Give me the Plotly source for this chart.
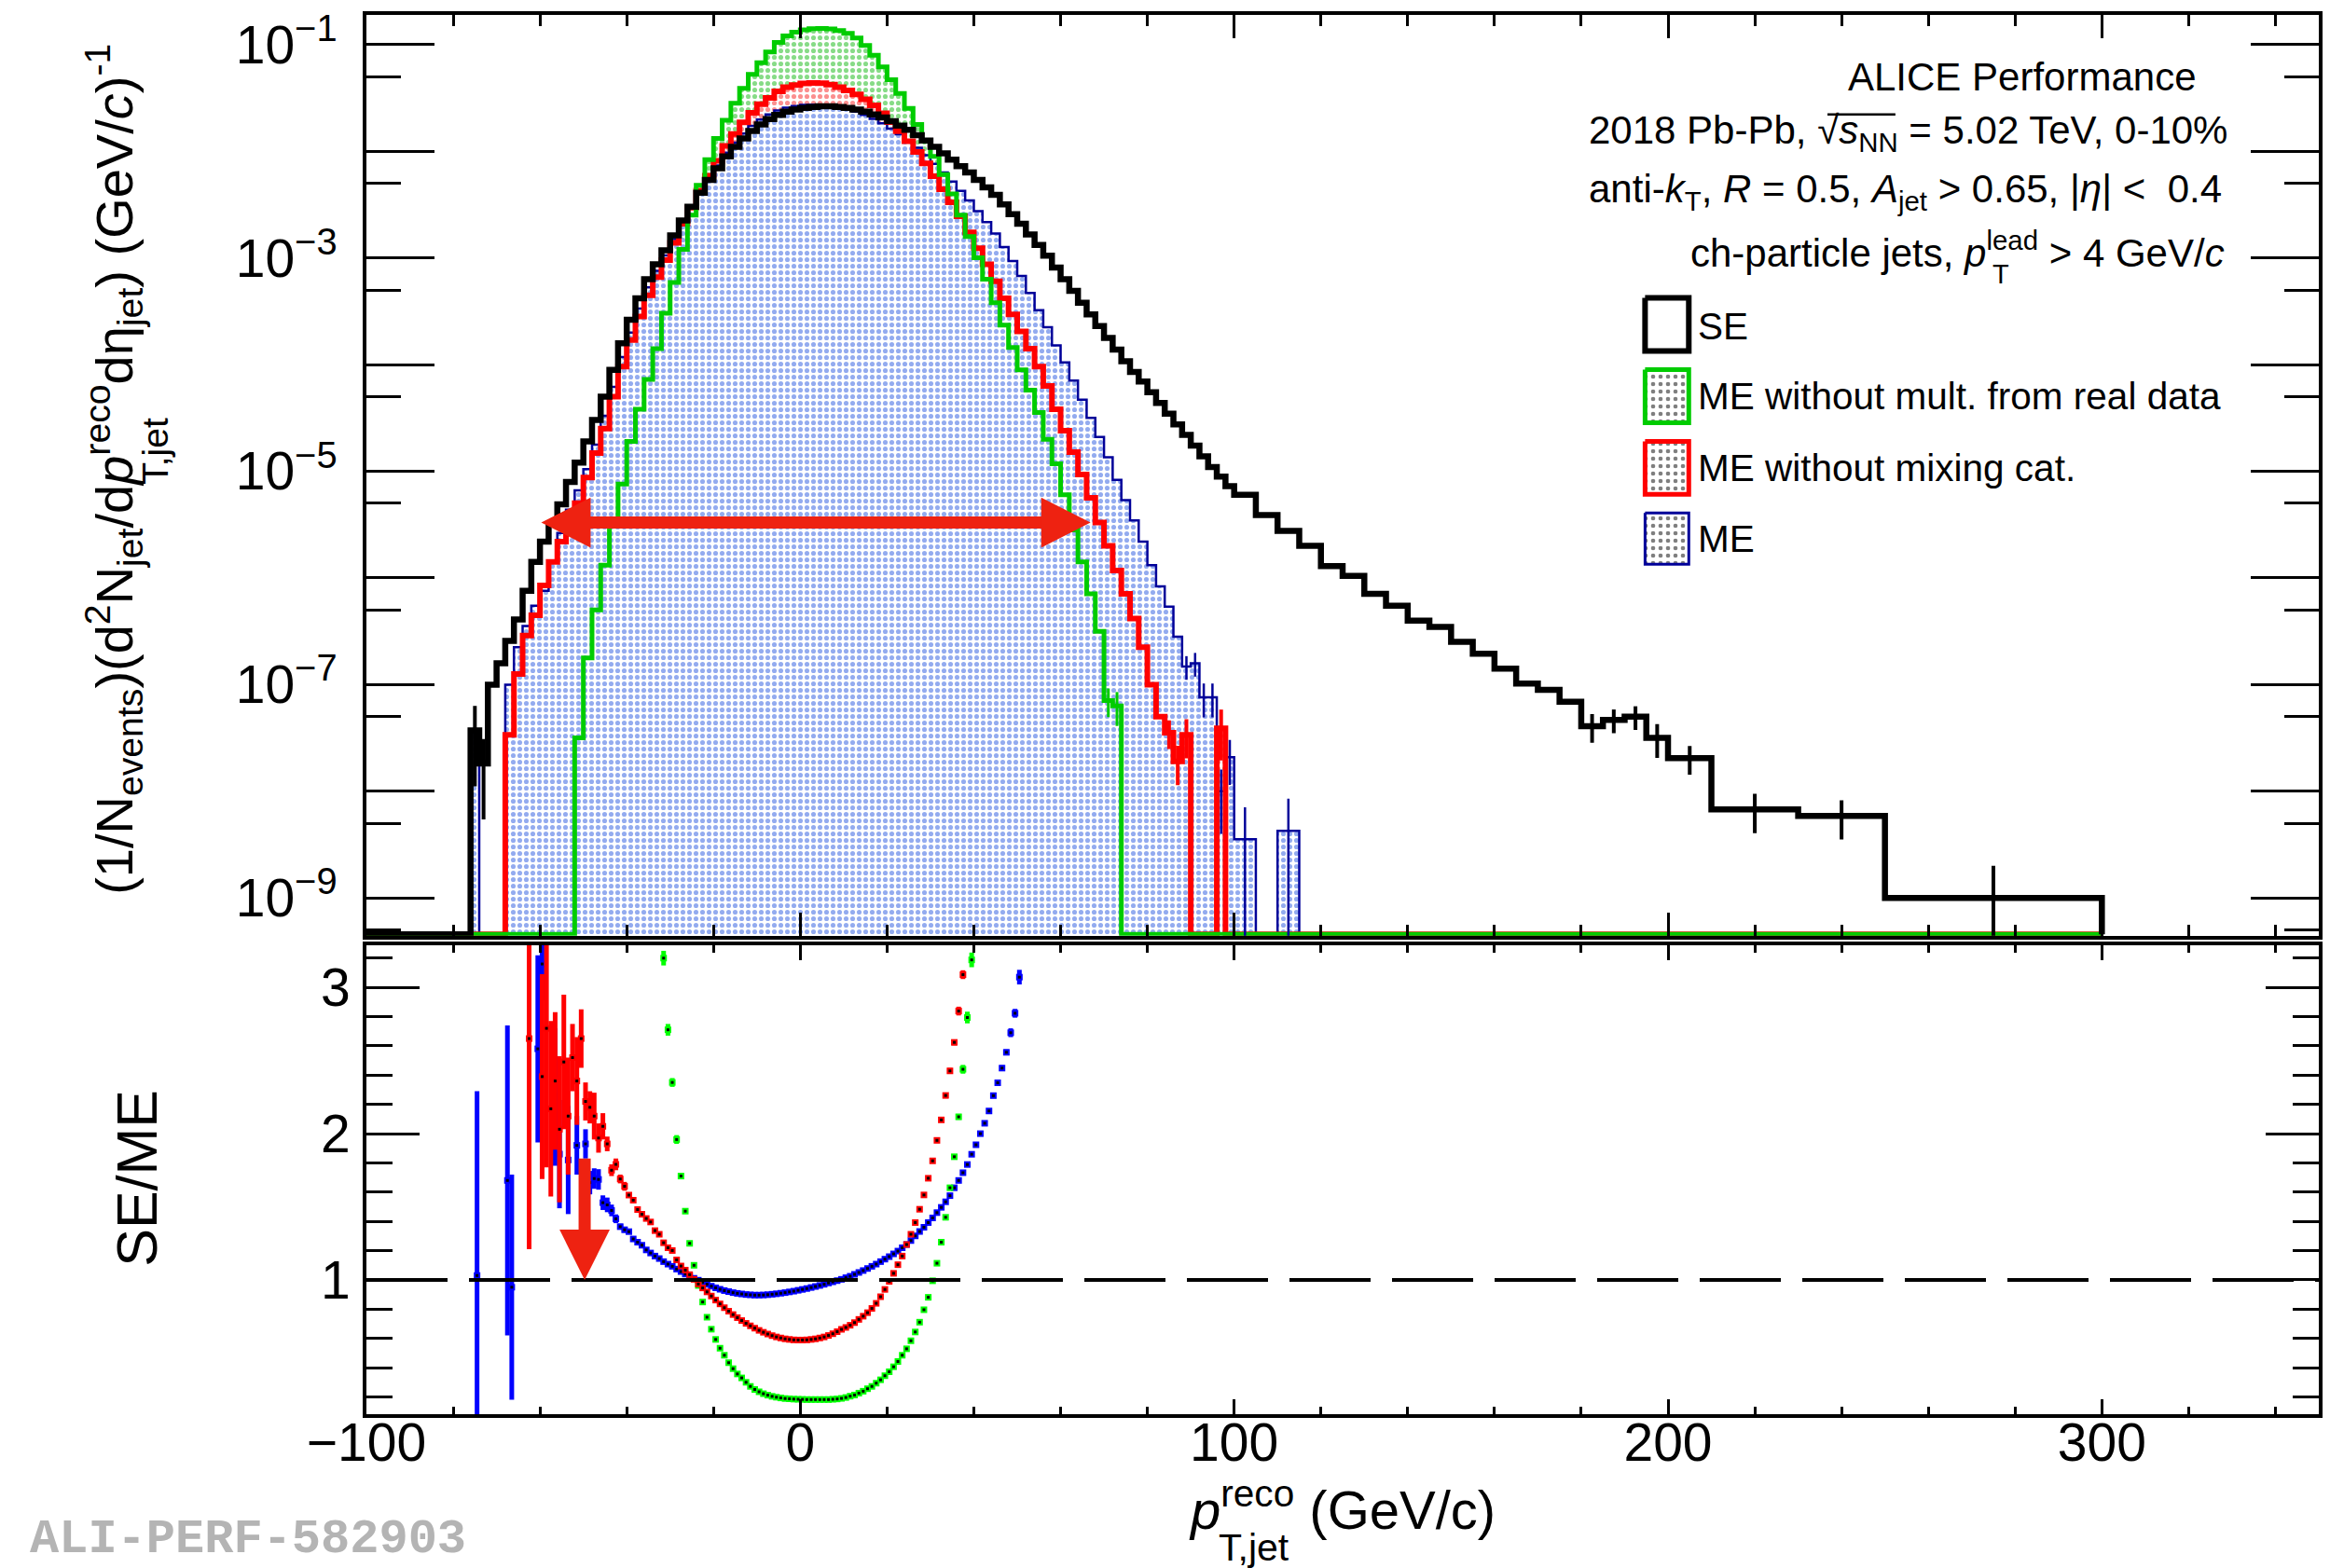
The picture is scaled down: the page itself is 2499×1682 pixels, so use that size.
import numpy as np
import plotly.graph_objects as go

# ======================= DATA =======================
# histogram bin edges, p_T,jet^reco in GeV/c
BIN_EDGES = list(range(-100, 100, 2)) + list(range(100, 200, 5)) + [200, 210, 230, 250, 300]

# log10 of (1/N_ev) d2N/dpT deta per bin ; None = empty bin
SE_LOG10 = [None] * 12 + [
    -7.43, -7.74, -7.00, -6.80, -6.59, -6.39, -6.12, -5.85, -5.66, -5.50,
    -5.31, -5.10, -4.92, -4.72, -4.52, -4.30, -4.05, -3.80, -3.58, -3.38,
    -3.20, -3.06, -2.93, -2.79, -2.65, -2.52, -2.39, -2.27, -2.16, -2.05,
    -1.96, -1.88, -1.81, -1.75, -1.70, -1.66, -1.63, -1.61,
    -1.595, -1.585, -1.58, -1.58, -1.585, -1.595, -1.61, -1.63, -1.655, -1.685,
    -1.72, -1.76, -1.80, -1.85, -1.90, -1.96, -2.02, -2.08, -2.14, -2.20,
    -2.27, -2.34, -2.41, -2.50, -2.59, -2.68, -2.78, -2.88, -2.98, -3.09,
    -3.20, -3.31, -3.42, -3.53, -3.64, -3.75, -3.86, -3.97, -4.07, -4.16,
    -4.26, -4.36, -4.46, -4.56, -4.66, -4.76, -4.86, -4.96, -5.05, -5.14,
] + [
    -5.22, -5.41, -5.56, -5.70, -5.89, -5.98, -6.15, -6.26, -6.40, -6.46,
    -6.60, -6.71, -6.85, -6.99, -7.05, -7.16, -7.39, -7.33, -7.30, -7.50,
] + [-7.69, -8.17, -8.23, -9.00]

ME_NOMULT_LOG10 = [None] * 24 + [
    -7.50, -6.75, -6.30, -5.88, -5.50, -5.12, -4.72, -4.42, -4.14, -3.85,
    -3.52, -3.23, -2.92, -2.60, -2.32, -2.08, -1.88, -1.71, -1.55, -1.41,
    -1.28, -1.17, -1.07, -0.98, -0.92, -0.885,
    -0.862, -0.852, -0.850, -0.855, -0.870, -0.895, -0.940, -1.010, -1.100, -1.210,
    -1.33, -1.46, -1.60, -1.75, -1.90, -2.05, -2.22, -2.40, -2.60, -2.80,
    -3.00, -3.20, -3.42, -3.63, -3.84, -4.05, -4.24, -4.45, -4.70, -4.93,
    -5.22, -5.55, -5.85, -6.15, -6.50, -7.15, -7.20,
] + [None] * 13 + [None] * 20 + [None] * 4

ME_NOCAT_LOG10 = [None] * 16 + [
    -7.47, -6.90, -6.54, -6.35, -6.07, -5.85, -5.66, -5.47, -5.30, -5.06,
    -4.83, -4.60, -4.30, -4.02, -3.77, -3.55, -3.35, -3.18, -3.02, -2.86,
    -2.68, -2.53, -2.37, -2.23, -2.09, -1.95, -1.84, -1.73, -1.64, -1.56,
    -1.50, -1.44, -1.40, -1.38,
    -1.366, -1.360, -1.363, -1.377, -1.400, -1.430, -1.467, -1.513, -1.570, -1.644,
    -1.728, -1.814, -1.906, -2.008, -2.114, -2.235, -2.358, -2.480, -2.610, -2.760,
    -2.91, -3.06, -3.22, -3.38, -3.53, -3.69, -3.85, -4.02, -4.20, -4.42,
    -4.62, -4.82, -5.03, -5.25, -5.48, -5.70, -5.93, -6.15, -6.38, -6.65,
    -7.00, -7.30, -7.45, -7.72, -7.47, None, None, None, -7.41, None,
] + [None] * 20 + [None] * 4

ME_LOG10 = [None] * 12 + [
    -7.45, None, None, None, -7.00, -6.65, -6.45, -6.26, -6.12, -5.84,
    -5.58, -5.36, -5.18, -4.98, -4.75, -4.48, -4.21, -3.93, -3.70, -3.476,
    -3.277, -3.122, -2.978, -2.825, -2.671, -2.528, -2.386, -2.254, -2.134, -2.015,
    -1.919, -1.835, -1.763, -1.703, -1.655, -1.618, -1.592, -1.577,
    -1.567, -1.563, -1.565, -1.573, -1.585, -1.604, -1.629, -1.660, -1.697, -1.739,
    -1.788, -1.842, -1.899, -1.969, -2.039, -2.119, -2.200, -2.285, -2.372, -2.461,
    -2.563, -2.665, -2.772, -2.898, -3.030, -3.170, -3.330, -3.490, -3.650, -3.820,
    -3.98, -4.15, -4.33, -4.50, -4.68, -4.87, -5.08, -5.27, -5.46, -5.66,
    -5.88, -6.08, -6.27, -6.55, -6.83, -6.80, -7.12, -7.12, -8.00, -7.68,
] + [-8.45, None, -8.37] + [None] * 17 + [None] * 4

# relative statistical errors drawn as bars {bin centre: sigma/value}
SE_REL_ERR = {-75: 0.7, -73: 0.7, 182.5: 0.3, 187.5: 0.25, 192.5: 0.25, 197.5: 0.35,
              205: 0.3, 220: 0.4, 240: 0.4, 275: 1.0}
ME_REL_ERR = {89: 0.25, 91: 0.25, 93: 0.35, 95: 0.35, 97: 0.6, 99: 0.45, 102.5: 1.0, 112.5: 1.0}
ME_NOCAT_REL_ERR = {85: 0.3, 87: 0.4, 89: 0.4, 97: 0.5}
ME_NOMULT_REL_ERR = {71: 0.3, 73: 0.35}

# ratio SE/ME (1 GeV bins)
RATIO_ME_X = [-74.5, -67.5, -66.5, -60.5, -59.5, -56.5, -55.5, -53.5, -51.5, -49.5,
              -48.5, -47.5, -46.5, -45.5, -44.5, -43.5, -42.5, -41.5, -40.5] + \
    list(np.arange(-39.5, 51.0, 1.0))
RATIO_ME = [1.03, 1.68, 0.95, 2.58, 3.16, 2.25, 1.86, 1.82, 1.92, 1.93,
            1.665, 1.693, 1.687, 1.528, 1.513, 1.475, 1.418, 1.364, 1.343] + [
    1.33, 1.28, 1.258, 1.237, 1.205, 1.184, 1.163, 1.146, 1.125, 1.108,
    1.093, 1.074, 1.057, 1.04, 1.025, 1.011, 0.998, 0.983, 0.97, 0.957,
    0.946, 0.936, 0.927, 0.92, 0.913, 0.908, 0.904, 0.90, 0.898, 0.896,
    0.896, 0.897, 0.899, 0.902, 0.905, 0.909, 0.913, 0.918, 0.923, 0.929,
    0.935, 0.941, 0.948, 0.955, 0.962, 0.97, 0.979, 0.987, 0.995, 1.004,
    1.015, 1.025, 1.038, 1.051, 1.064, 1.078, 1.093, 1.108, 1.125, 1.142,
    1.159, 1.178, 1.197, 1.22, 1.242, 1.269, 1.301, 1.331, 1.36, 1.392,
    1.424, 1.46, 1.496, 1.534, 1.576, 1.63, 1.68, 1.733, 1.789, 1.859,
    1.924, 2.0, 2.071, 2.155, 2.26, 2.348, 2.448, 2.556, 2.69, 2.823,
    3.07]
RATIO_ME_ERR = [1.26, 1.06, 0.77, 0.64, 0.25, 0.47, 0.37, 0.37, 0.2, 0.1,
                0.08, 0.07, 0.07, 0.05, 0.05, 0.04, 0.03, 0.02, 0.02] + [0.0] * 86 + \
    [0.02, 0.02, 0.03, 0.03, 0.05]

RATIO_NOCAT_X = [-62.5, -59.5, -58.5, -57.5, -56.5, -55.5, -54.5, -53.5, -52.5, -51.5,
                 -50.5, -49.5, -48.5, -47.5, -46.5, -45.5, -44.5, -43.5, -42.5, -41.5,
                 -40.5] + list(np.arange(-39.5, 38.0, 1.0))
RATIO_NOCAT = [2.65, 2.39, 2.72, 2.17, 2.36, 2.03, 2.49, 2.12, 2.52, 2.36,
               2.65, 2.22, 2.18, 2.12, 1.97, 2.05, 1.93, 1.75, 1.79, 1.69,
               1.64] + [
    1.58, 1.545, 1.481, 1.449, 1.42, 1.396, 1.337, 1.312, 1.254, 1.22,
    1.201, 1.137, 1.095, 1.067, 1.036, 1.004, 0.972, 0.945, 0.918, 0.89,
    0.862, 0.836, 0.81, 0.786, 0.763, 0.742, 0.722, 0.703, 0.686, 0.67,
    0.655, 0.642, 0.63, 0.619, 0.61, 0.603, 0.597, 0.593, 0.59, 0.589,
    0.589, 0.59, 0.593, 0.597, 0.603, 0.61, 0.62, 0.632, 0.646, 0.662,
    0.675, 0.69, 0.708, 0.73, 0.752, 0.776, 0.805, 0.84, 0.885, 0.935,
    0.99, 1.045, 1.104, 1.163, 1.242, 1.312, 1.392, 1.483, 1.581, 1.695,
    1.814, 1.954, 2.094, 2.261, 2.429, 2.624, 2.838, 3.087]
RATIO_NOCAT_ERR = [1.44, 0.7, 0.95, 0.6, 0.47, 0.5, 0.46, 0.4, 0.23, 0.3,
                   0.2, 0.13, 0.11, 0.16, 0.1, 0.09, 0.05, 0.04, 0.04, 0.03,
                   0.03] + [0.0] * 74 + [0.02, 0.02, 0.03, 0.03]

RATIO_NOMULT_X = list(np.arange(-31.5, 40.0, 1.0))
RATIO_NOMULT = [
    3.20, 2.71, 2.35, 1.96, 1.71, 1.47, 1.25, 1.10, 0.962, 0.849,
    0.745, 0.663, 0.593, 0.533, 0.485, 0.434, 0.393, 0.357, 0.33, 0.30,
    0.272, 0.251, 0.235, 0.222, 0.212, 0.204, 0.198, 0.193, 0.189, 0.187,
    0.185, 0.184, 0.183, 0.182, 0.182, 0.182, 0.182, 0.182, 0.182, 0.184,
    0.186, 0.19, 0.196, 0.205, 0.213, 0.226, 0.239, 0.256, 0.272, 0.294,
    0.317, 0.345, 0.372, 0.406, 0.442, 0.485, 0.529, 0.584, 0.644, 0.711,
    0.796, 0.881, 0.994, 1.114, 1.258, 1.428, 1.63, 1.842, 2.115, 2.44,
    2.794, 3.188]
RATIO_NOMULT_ERR = [0.05, 0.04, 0.03, 0.03] + [0.0] * 64 + [0.02, 0.03, 0.04, 0.05]

# annotation positions in data units
ARROW_H_TIPS = (-59.7, 66.9)      # GeV/c
ARROW_H_LEVEL = 3.3e-6            # spectrum units
ARROW_V_X = -49.7                 # GeV/c
ARROW_V_FROM, ARROW_V_TO = 1.83, 1.0

# ======================= LAYOUT GEOMETRY =======================
W, H = 2499, 1682
L_PX, R_PX = 393, 2491
TOP_PX, BOT_PX = 14, 1517
TOP_PANEL_BOTTOM_PX, BOT_PANEL_TOP_PX = 1003, 1013
PH = BOT_PX - TOP_PX
PW = R_PX - L_PX
X_RANGE = [-100, 350]
Y_LOG_RANGE = [-9.353, -0.723]
R_RANGE = [0.082, 3.29]
PX_PER_GEV = PW / (X_RANGE[1] - X_RANGE[0])
TOP_H_PX = TOP_PANEL_BOTTOM_PX - TOP_PX
BOT_H_PX = BOT_PX - BOT_PANEL_TOP_PX
PX_PER_R = BOT_H_PX / (R_RANGE[1] - R_RANGE[0])


def px2paper(px, py):
    return (px - L_PX) / PW, (BOT_PX - py) / PH


FONT = "Liberation Sans, Arial, Helvetica, sans-serif"
C_GREEN_LINE, C_GREEN_DOT = "#00cc00", "#10b810"
C_RED_LINE, C_RED_DOT = "#ff0000", "#f82020"
C_BLUE_LINE, C_BLUE_DOT = "#000099", "#2858e0"
C_ARROW = "#ee2211"

FLOOR = 10 ** (Y_LOG_RANGE[0] + 0.012)   # empty bins drawn at the frame bottom (ROOT log style)
LOW = 10 ** (Y_LOG_RANGE[0] - 3)

centers = [(a + b) / 2 for a, b in zip(BIN_EDGES[:-1], BIN_EDGES[1:])]


def vals(logs):
    return [10 ** v if v is not None else FLOOR for v in logs]


fig = go.Figure()
XS_STEP = BIN_EDGES  # with the last value repeated -> 'hv' step outline


def pattern(color):
    return dict(shape=".", fgcolor=color, bgcolor="rgba(0,0,0,0)", size=7,
                solidity=0.42, fillmode="overlay")


v_se = vals(SE_LOG10)
v_me = vals(ME_LOG10)
v_nocat = vals(ME_NOCAT_LOG10)
v_nomult = vals(ME_NOMULT_LOG10)
# dotted fills: ME down to the frame, the others only where they stick out above it
top_nocat = [max(a, b) for a, b in zip(v_nocat, v_me)]
top_nomult = [max(a, b) for a, b in zip(v_nomult, top_nocat)]

fig.add_trace(go.Scatter(
    x=BIN_EDGES + [BIN_EDGES[-1], BIN_EDGES[0]], y=v_me + [v_me[-1], LOW, LOW],
    mode="lines", line=dict(width=0, shape="hv"), fill="toself",
    fillcolor="rgba(0,0,0,0)", fillpattern=pattern(C_BLUE_DOT),
    xaxis="x", yaxis="y", hoverinfo="skip", showlegend=False))
for base, top, col in [(v_me, top_nocat, C_RED_DOT), (top_nocat, top_nomult, C_GREEN_DOT)]:
    fig.add_trace(go.Scatter(
        x=XS_STEP, y=base + [base[-1]], mode="lines", line=dict(width=0, shape="hv"),
        xaxis="x", yaxis="y", hoverinfo="skip", showlegend=False))
    fig.add_trace(go.Scatter(
        x=XS_STEP, y=top + [top[-1]], mode="lines", line=dict(width=0, shape="hv"),
        fill="tonexty", fillcolor="rgba(0,0,0,0)", fillpattern=pattern(col),
        xaxis="x", yaxis="y", hoverinfo="skip", showlegend=False))


def add_hist_line(v, color, width):
    fig.add_trace(go.Scatter(
        x=BIN_EDGES + [BIN_EDGES[-1]], y=v + [v[-1], FLOOR],
        mode="lines", line=dict(color=color, width=width, shape="hv"),
        xaxis="x", yaxis="y", hoverinfo="skip", showlegend=False))


add_hist_line(v_me, C_BLUE_LINE, 2.5)
add_hist_line(v_nocat, C_RED_LINE, 6)
add_hist_line(v_nomult, C_GREEN_LINE, 5)
add_hist_line(v_se, "black", 6.5)


def add_hist_err(v, rel_err, color, width):
    xs, ys, up, dn = [], [], [], []
    for c, r in rel_err.items():
        i = centers.index(c)
        xs.append(c)
        ys.append(v[i])
        up.append(v[i] * r)
        dn.append(v[i] * min(r, 0.9999))
    fig.add_trace(go.Scatter(
        x=xs, y=ys, mode="markers", marker=dict(size=1, opacity=0),
        error_y=dict(type="data", array=up, arrayminus=dn, color=color,
                     thickness=width, width=0, symmetric=False),
        xaxis="x", yaxis="y", hoverinfo="skip", showlegend=False))


add_hist_err(v_nomult, ME_NOMULT_REL_ERR, C_GREEN_LINE, 3)
add_hist_err(v_nocat, ME_NOCAT_REL_ERR, C_RED_LINE, 4)
add_hist_err(v_me, ME_REL_ERR, C_BLUE_LINE, 2.5)
add_hist_err(v_se, SE_REL_ERR, "black", 4)


def add_ratio(x, y, err, color):
    fig.add_trace(go.Scatter(
        x=x, y=y, mode="markers",
        marker=dict(symbol="square", size=7, color=color, line=dict(width=0)),
        error_y=dict(type="data", array=err, color=color, thickness=5, width=0),
        error_x=dict(type="constant", value=0.5, color=color, thickness=5, width=0),
        xaxis="x2", yaxis="y2", hoverinfo="skip", showlegend=False))
    fig.add_trace(go.Scatter(
        x=x, y=y, mode="markers",
        marker=dict(symbol="square", size=3, color="black", line=dict(width=0)),
        xaxis="x2", yaxis="y2", hoverinfo="skip", showlegend=False))


add_ratio(RATIO_ME_X, RATIO_ME, RATIO_ME_ERR, "#0000ff")
add_ratio(RATIO_NOMULT_X, RATIO_NOMULT, RATIO_NOMULT_ERR, "#00ff00")
add_ratio(RATIO_NOCAT_X, RATIO_NOCAT, RATIO_NOCAT_ERR, "#ff0000")

# ---------------- legend boxes (pixel overlay axis x3/y3) ----------------
LEG_X0, LEG_X1 = 1767, 1814
LEG_ROWS = [(318, 375, "black", 6, None, "SE", 348),
            (395, 452, C_GREEN_LINE, 5, "black", "ME without mult. from real data", 424),
            (472, 529, C_RED_LINE, 5, "black", "ME without mixing cat.", 501),
            (549, 604, C_BLUE_LINE, 3, "black", "ME", 577)]
for y0, y1, col, lw, dot, label, ymid in LEG_ROWS:
    kw = dict(fillcolor="white")
    if dot:
        kw = dict(fillcolor="white",
                  fillpattern=dict(shape=".", fgcolor=dot, bgcolor="white", size=8,
                                   solidity=0.26, fillmode="overlay"))
    fig.add_trace(go.Scatter(
        x=[LEG_X0, LEG_X1, LEG_X1, LEG_X0, LEG_X0], y=[y0, y0, y1, y1, y0],
        mode="lines", line=dict(color=col, width=lw), fill="toself",
        xaxis="x3", yaxis="y3", hoverinfo="skip", showlegend=False, **kw))

# ---------------- axes ----------------
tick_common = dict(showline=True, linewidth=4, linecolor="black", mirror="ticks",
                   ticks="inside", tickwidth=3, tickcolor="black", showgrid=False,
                   zeroline=False)
fig.update_layout(
    width=W, height=H,
    margin=dict(l=L_PX, r=W - R_PX, t=TOP_PX, b=H - BOT_PX),
    paper_bgcolor="white", plot_bgcolor="rgba(0,0,0,0)", showlegend=False,
    font=dict(family=FONT, color="black"),
    xaxis=dict(domain=[0, 1], anchor="y", range=X_RANGE, tickmode="linear", tick0=0,
               dtick=100, ticklen=25, showticklabels=False,
               minor=dict(dtick=20, tick0=0, ticklen=12, tickwidth=3, ticks="inside",
                          tickcolor="black"),
               **tick_common),
    yaxis=dict(domain=[(BOT_PX - TOP_PANEL_BOTTOM_PX) / PH, 1], anchor="x", type="log",
               range=Y_LOG_RANGE, tickmode="array",
               tickvals=[10.0 ** k for k in range(-9, 0)],
               ticktext=["10<sup>\u2212%d</sup>" % (-k) if k % 2 else "" for k in range(-9, 0)],
               ticklen=73, tickfont=dict(size=57), ticklabelstandoff=16,
               minor=dict(tickmode="array", tickvals=[5 * 10.0 ** k for k in range(-10, -1)],
                          ticklen=37, tickwidth=3, ticks="inside", tickcolor="black"),
               **tick_common),
    xaxis2=dict(domain=[0, 1], anchor="y2", range=X_RANGE, tickmode="array",
                tickvals=[-100, 0, 100, 200, 300],
                ticktext=["\u2212100", "0", "100", "200", "300"],
                ticklen=16, tickfont=dict(size=57), ticklabelstandoff=-22,
                minor=dict(tickmode="array", tickvals=list(range(-80, 350, 20)),
                           ticklen=8, tickwidth=3, ticks="inside", tickcolor="black"),
                **tick_common),
    yaxis2=dict(domain=[0, (BOT_PX - BOT_PANEL_TOP_PX) / PH], anchor="x2", range=R_RANGE,
                tickmode="array", tickvals=[1, 2, 3], ticklen=57,
                tickfont=dict(size=57), ticklabelstandoff=2,
                minor=dict(tickmode="array",
                           tickvals=[round(0.2 * k, 1) for k in range(1, 17)],
                           ticklen=28, tickwidth=3, ticks="inside", tickcolor="black"),
                **tick_common),
    xaxis3=dict(domain=[0, 1], anchor="y3", range=[L_PX, R_PX], visible=False,
                fixedrange=True),
    yaxis3=dict(domain=[0, 1], anchor="x3", range=[BOT_PX, TOP_PX], visible=False,
                fixedrange=True),
)

# ---------------- shapes: dashed unity line and red arrows ----------------
fig.add_shape(type="line", xref="x2", yref="y2", x0=X_RANGE[0], x1=X_RANGE[1], y0=1, y1=1,
              line=dict(color="black", width=4, dash="87px,23px"))

HEAD_LEN_PX, HEAD_HALF_PX, SHAFT_PX = 53, 27, 13
yd = (np.log10(ARROW_H_LEVEL) - Y_LOG_RANGE[0]) / (Y_LOG_RANGE[1] - Y_LOG_RANGE[0])
hh = HEAD_HALF_PX / TOP_H_PX
hl = HEAD_LEN_PX / PX_PER_GEV
xl, xr = ARROW_H_TIPS
fig.add_shape(type="line", xref="x", yref="y domain", x0=xl + hl - 0.5, x1=xr - hl + 0.5,
              y0=yd, y1=yd, line=dict(color=C_ARROW, width=SHAFT_PX))
fig.add_shape(type="path", xref="x", yref="y domain", fillcolor=C_ARROW, line=dict(width=0),
              path=f"M {xl},{yd} L {xl + hl},{yd + hh} L {xl + hl},{yd - hh} Z")
fig.add_shape(type="path", xref="x", yref="y domain", fillcolor=C_ARROW, line=dict(width=0),
              path=f"M {xr},{yd} L {xr - hl},{yd + hh} L {xr - hl},{yd - hh} Z")

vhl = HEAD_LEN_PX * 1.02 / PX_PER_R
vhh = HEAD_HALF_PX / PX_PER_GEV
fig.add_shape(type="line", xref="x2", yref="y2", x0=ARROW_V_X, x1=ARROW_V_X,
              y0=ARROW_V_FROM, y1=ARROW_V_TO + vhl - 0.01, line=dict(color=C_ARROW, width=SHAFT_PX))
fig.add_shape(type="path", xref="x2", yref="y2", fillcolor=C_ARROW, line=dict(width=0),
              path=f"M {ARROW_V_X},{ARROW_V_TO} L {ARROW_V_X - vhh},{ARROW_V_TO + vhl} "
                   f"L {ARROW_V_X + vhh},{ARROW_V_TO + vhl} Z")


# ---------------- texts (positions given in image pixels -> paper) ----------------
def txt(px, py, s, size, xanchor="left", yanchor="middle", angle=0, color="black",
        family=FONT):
    x, y = px2paper(px, py)
    fig.add_annotation(x=x, y=y, xref="paper", yref="paper", text=s, showarrow=False,
                       xanchor=xanchor, yanchor=yanchor, textangle=angle,
                       font=dict(size=size, color=color, family=family))


HS = 42
txt(1983, 81, "ALICE Performance", HS)
txt(1704, 141, "2018 Pb-Pb, \u221a<i>s</i><sub>NN</sub> = 5.02 TeV, 0-10%", HS)
txt(1704, 204, "anti-<i>k</i><sub>T</sub>, <i>R</i> = 0.5, <i>A</i><sub>jet</sub> &gt; 0.65, "
               "|<i>\u03b7</i>| &lt;  0.4", HS)
txt(2392, 266, "ch-particle jets, <i>p</i><sup>lead</sup> &gt; 4 GeV/<i>c</i>", HS,
    xanchor="right")
txt(2138, 292, "T", 29)
fig.add_shape(type="line", xref="x3", yref="y3", x0=1963, x1=2036, y0=121, y1=121,
              line=dict(color="black", width=2.5))

for y0, y1, col, lw, dot, label, ymid in LEG_ROWS:
    txt(1822, ymid, label, 40.5)

# axis titles
txt(1275, 1654, "<i>p</i><sup>reco</sup> (GeV/c)", 58, yanchor="bottom")
txt(1307, 1660, "T,jet", 41)
txt(147, 1263, "SE/ME", 61, xanchor="center", angle=-90)
txt(122, 502, "(1/N<sub>events</sub>)(d<sup>2</sup>N<sub>jet</sub>/d<i>p</i><sup>reco</sup>"
              "d\u03b7<sub>jet</sub>) (GeV/<i>c</i>)<sup>-1</sup>", 56,
    xanchor="center", angle=-90)
txt(166, 482, "T,jet", 39, xanchor="center", angle=-90)

# watermark
txt(29, 1652, "<b>ALI-PERF-582903</b>", 52, color="#b4b4b4",
    family="Liberation Mono, Courier New, monospace")

fig.write_html("out.html")
